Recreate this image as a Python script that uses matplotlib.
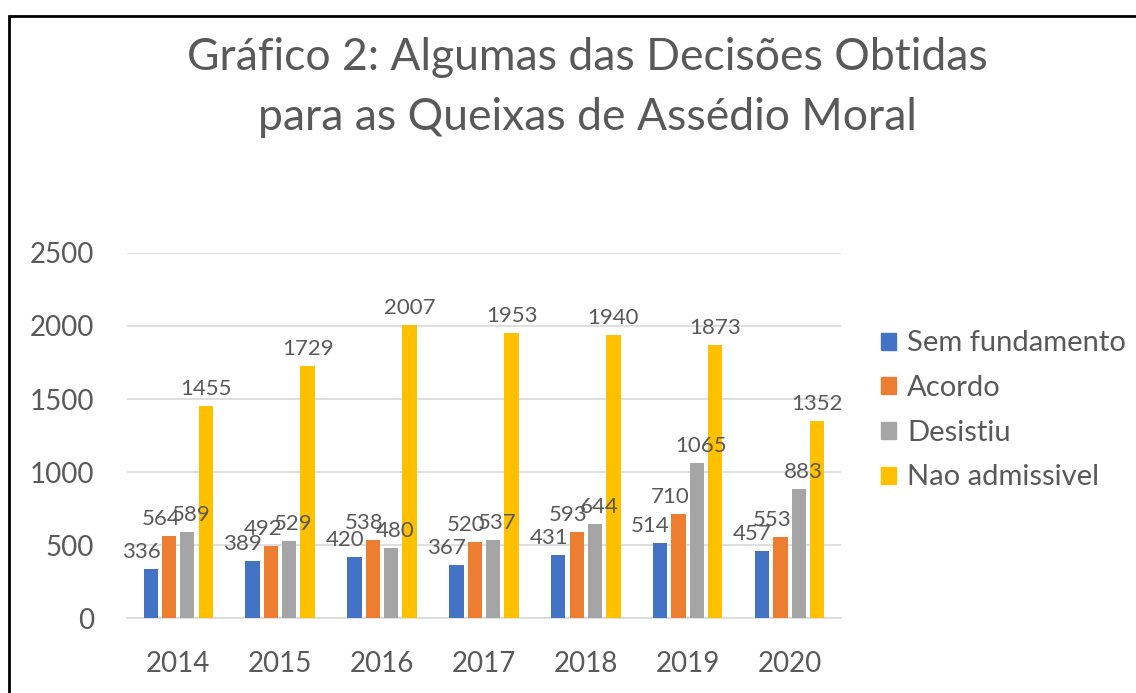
import matplotlib.pyplot as plt
import numpy as np
from matplotlib.patches import Rectangle

plt.rcParams['font.family'] = ['Lato', 'DejaVu Sans']

# dados
anos = ["2014", "2015", "2016", "2017", "2018", "2019", "2020"]
sem_fundamento = [336, 389, 420, 367, 431, 514, 457]
acordo = [564, 492, 538, 520, 593, 710, 553]
desistiu = [589, 529, 480, 537, 644, 1065, 883]
nao_admissivel = [1455, 1729, 2007, 1953, 1940, 1873, 1352]

series = [sem_fundamento, acordo, desistiu, nao_admissivel]
nomes = ["Sem fundamento", "Acordo", "Desistiu", "Nao admissivel"]
cores = ["#4472C4", "#ED7D31", "#A5A5A5", "#FFC000"]
cinza_texto = "#595959"
# deslocamento horizontal dos rotulos de cada serie (pontos)
desloc_rotulo = [-7, -6, 3, 0]

fig = plt.figure(figsize=(11.36, 6.93), dpi=100)
ax = fig.add_axes([0.112, 0.108, 0.628, 0.527])

x = np.arange(len(anos))
largura = 0.14
passo = 0.18
for i, (vals, cor) in enumerate(zip(series, cores)):
    pos = x + (i - 1.5) * passo
    ax.bar(pos, vals, largura, color=cor, zorder=3)
    for xp, v in zip(pos, vals):
        ax.annotate(str(v), (xp, v), xytext=(desloc_rotulo[i], 5), textcoords="offset points",
                    ha="center", va="bottom", fontsize=16, color=cinza_texto, zorder=4)

ax.set_xlim(-0.5, len(anos) - 0.5)
ax.set_ylim(0, 2500)
ax.set_yticks(range(0, 2501, 500))
ax.set_xticks(x)
ax.set_xticklabels(anos)
ax.tick_params(axis="both", length=0, labelsize=20, colors=cinza_texto)
ax.tick_params(axis="y", pad=24)
ax.tick_params(axis="x", pad=24)
ax.grid(axis="y", color="#D9D9D9", linewidth=1.2, zorder=0)
for s in ["top", "right", "left"]:
    ax.spines[s].set_visible(False)
ax.spines["bottom"].set_color("#D9D9D9")
ax.spines["bottom"].set_linewidth(1.2)

# titulo em duas linhas
fig.text(0.517, 0.874, "Gráfico 2: Algumas das Decisões Obtidas\npara as Queixas de Assédio Moral",
         ha="center", va="center", fontsize=32, color=cinza_texto, linespacing=1.58)

# legenda
handles = [Rectangle((0, 0), 1, 1, color=c) for c in cores]
leg = fig.legend(handles, nomes, loc="upper left", bbox_to_anchor=(0.752, 0.561),
                 frameon=False, fontsize=21, handlelength=0.52, handleheight=0.52,
                 handletextpad=0.4, labelspacing=0.64, labelcolor=cinza_texto)

# moldura do grafico
fig.add_artist(Rectangle((0.008, -0.05), 1.1, 1.027, transform=fig.transFigure,
                         fill=False, edgecolor="black", linewidth=2))

fig.savefig("out.png", dpi=100)
